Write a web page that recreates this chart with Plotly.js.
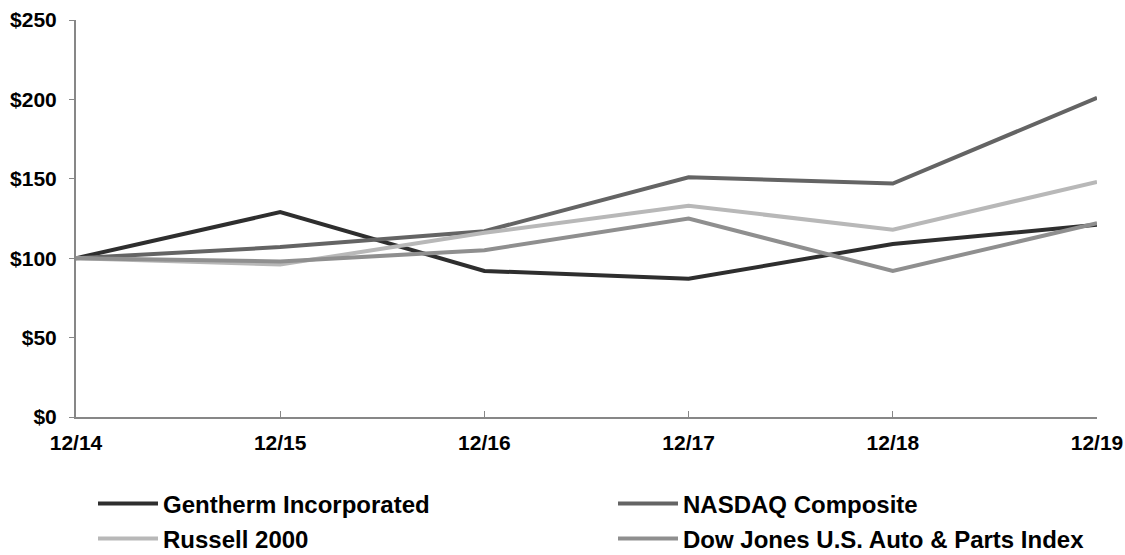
<!DOCTYPE html>
<html>
<head>
<meta charset="utf-8">
<script src="https://cdn.plot.ly/plotly-3.0.1.min.js"></script>
<style>html,body{margin:0;padding:0;background:#fff;}#chart{width:1125px;height:555px;}</style>
</head>
<body>
<div id="chart"></div>
<script>
const periods = ["12/14", "12/15", "12/16", "12/17", "12/18", "12/19"];
const gentherm = [100, 129, 92, 87, 109, 121];
const nasdaq = [100, 107, 117, 151, 147, 201];
const russell = [100, 96, 116, 133, 118, 148];
const dowAuto = [100, 98, 105, 125, 92, 122];
const yTicks = [0, 50, 100, 150, 200, 250];
const yTickText = ["$0", "$50", "$100", "$150", "$200", "$250"];

const FONT = {family: "Liberation Sans, Arial, sans-serif", size: 21, color: "#000", weight: "bold"};
const LFONT = {family: "Liberation Sans, Arial, sans-serif", size: 24, color: "#000", weight: "bold"};

function tr(name, y, color, legend) {
  return {x: periods, y: y, name: name, type: "scatter", mode: "lines",
          line: {color: color, width: 4}, legend: legend};
}
const data = [
  tr("Gentherm Incorporated", gentherm, "#2e2e2e", "legend"),
  tr("NASDAQ Composite", nasdaq, "#646464", "legend2"),
  tr("Russell 2000", russell, "#b8b8b8", "legend3"),
  tr("Dow Jones U.S. Auto & Parts Index", dowAuto, "#8f8f8f", "legend4")
];
function leg(px, py) {
  return {orientation: "h", xref: "container", yref: "container",
    x: px/1125, xanchor: "left", y: 1 - py/555, yanchor: "middle", font: LFONT,
    bgcolor: "rgba(0,0,0,0)", borderwidth: 0, itemwidth: 60};
}
const layout = {
  width: 1125, height: 555,
  margin: {l: 76, r: 28, t: 20, b: 138},
  paper_bgcolor: "#fff", plot_bgcolor: "#fff",
  font: FONT,
  showlegend: true,
  legend: leg(93, 504),
  legend2: leg(613, 504),
  legend3: leg(93, 539),
  legend4: leg(613, 539),
  xaxis: {type: "category", range: [0, 5], showgrid: false, zeroline: false,
    showline: true, linecolor: "#878787", linewidth: 2,
    ticks: "inside", ticklen: 6, tickcolor: "#878787", tickwidth: 1,
    tickfont: FONT, ticklabelstandoff: 6, fixedrange: true},
  yaxis: {range: [0, 250], tickvals: yTicks, ticktext: yTickText, showgrid: false,
    zeroline: false, showline: true, linecolor: "#878787", linewidth: 2,
    ticks: "outside", ticklen: 5, tickcolor: "#878787", tickwidth: 1,
    tickfont: FONT, ticklabelstandoff: 8, fixedrange: true}
};
Plotly.newPlot("chart", data, layout, {displayModeBar: false, staticPlot: true});
</script>
</body>
</html>
